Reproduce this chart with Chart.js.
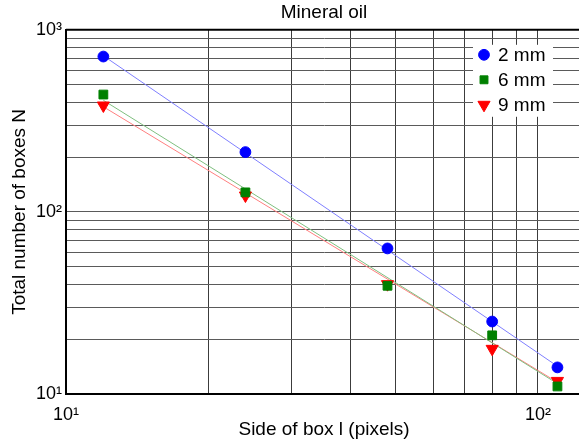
<!DOCTYPE html>
<html><head><meta charset="utf-8">
<script src="https://cdn.jsdelivr.net/npm/chart.js@4/dist/chart.umd.min.js"></script>
<style>
html,body{margin:0;padding:0;overflow:hidden;background:#fff;width:579px;height:444px}
#wrap{position:relative;width:590px;height:444px}
</style></head>
<body><div id="wrap"><canvas id="c"></canvas></div>
<script>
// ---- data ----
const boxSide = [12, 24, 48, 80, 110];
const seriesLabels = ['2 mm', '6 mm', '9 mm'];
const boxes2mm = [713, 213, 63, 25, 14];
const boxes6mm = [441, 128, 39.3, 21, 11];
const boxes9mm = [384, 123, 40.1, 17.7, 11.8];
const fitSide = [12, 110];
const fit2mm = [720, 14.2];
const fit6mm = [410, 11.4];
const fit9mm = [378, 11.6];
const xTickValues = [10, 20, 30, 40, 50, 60, 70, 80, 90, 100];
const yTickValues = [10, 20, 30, 40, 50, 60, 70, 80, 90, 100, 200, 300, 400, 500, 600, 700, 800, 900, 1000];
const tickLabels = {10: '10\u00b9', 100: '10\u00b2', 1000: '10\u00b3'};

const FONT = '"Liberation Sans", Arial, Helvetica, sans-serif';
const toXY = (xs, ys) => xs.map((x, i) => ({x: x, y: ys[i]}));

const markerSets = [
  {label: seriesLabels[0], data: toXY(boxSide, boxes2mm), pointStyle: 'circle', rotation: 0, radius: 5.4, legendRadius: 5.4, color: '#0000ff'},
  {label: seriesLabels[1], data: toXY(boxSide, boxes6mm), pointStyle: 'rect', rotation: 0, radius: 6.2, legendRadius: 5.6, color: '#008000'},
  {label: seriesLabels[2], data: toXY(boxSide, boxes9mm), pointStyle: 'triangle', rotation: 180, radius: 7, legendRadius: 7, color: '#ff0000'}
];
const fitSets = [
  {data: toXY(fitSide, fit2mm), color: '#7f7fff'},
  {data: toXY(fitSide, fit6mm), color: '#7fbf7f'},
  {data: toXY(fitSide, fit9mm), color: '#ff7f7f'}
];

const datasets = [];
markerSets.forEach(m => datasets.push({
  label: m.label, data: m.data, showLine: false, inLegend: true,
  pointStyle: m.pointStyle, rotation: m.rotation, pointRadius: m.radius, legendRadius: m.legendRadius,
  backgroundColor: m.color, borderColor: m.color, borderWidth: 1, pointHoverRadius: m.radius
}));
fitSets.forEach(f => datasets.push({
  label: '', data: f.data, showLine: true, pointRadius: 0, borderColor: f.color,
  backgroundColor: f.color, borderWidth: 1, fill: false
}));

const frameAndLegend = {
  id: 'frameAndLegend',
  afterDraw(chart) {
    const ctx = chart.ctx, a = chart.chartArea;
    ctx.save();
    // top frame line
    ctx.strokeStyle = '#000'; ctx.lineWidth = 2;
    ctx.beginPath(); ctx.moveTo(a.left, a.top); ctx.lineTo(a.right, a.top); ctx.stroke();
    // legend
    const x0 = a.right - 109, y0 = a.top + 15;
    ctx.fillStyle = '#fff';
    ctx.fillRect(x0, y0, 80, 72);
    let row = 0;
    chart.data.datasets.forEach(ds => {
      if (!ds.inLegend) return;
      const y = y0 + 10 + row * 25;
      ctx.fillStyle = ds.backgroundColor; ctx.strokeStyle = ds.borderColor; ctx.lineWidth = 1;
      Chart.helpers.drawPoint(ctx, {pointStyle: ds.pointStyle, rotation: ds.rotation, radius: ds.legendRadius, borderWidth: 1}, x0 + 11, y);
      ctx.fillStyle = '#000';
      ctx.font = '19px ' + FONT;
      ctx.textAlign = 'left'; ctx.textBaseline = 'middle';
      ctx.fillText(ds.label, x0 + 25, y + 1);
      row++;
    });
    ctx.restore();
  }
};

new Chart(document.getElementById('c'), {
  type: 'scatter',
  data: {datasets: datasets},
  plugins: [frameAndLegend],
  options: {
    responsive: true, maintainAspectRatio: false, animation: false,
    layout: {padding: {left: 0, right: 4, top: 0, bottom: 0}},
    plugins: {
      legend: {display: false},
      tooltip: {enabled: false},
      title: {display: true, text: 'Mineral oil', fullSize: false, color: '#000',
        font: {family: FONT, size: 19, weight: 'normal', lineHeight: 1.2}, padding: {top: 1, bottom: 6}}
    },
    scales: {
      x: {
        type: 'logarithmic', min: 10, max: 124, position: 'bottom',
        afterBuildTicks: s => { s.ticks = xTickValues.map(v => ({value: v})); },
        afterFit: s => { s.height = 50; },
        ticks: {autoSkip: false, maxRotation: 0, padding: 10, color: '#000',
          font: {family: FONT, size: 18}, callback: v => tickLabels[v] || ''},
        grid: {color: '#3c3c3c', lineWidth: 1, drawTicks: false},
        border: {color: '#000', width: 2},
        title: {display: true, text: 'Side of box l (pixels)', color: '#000',
          font: {family: FONT, size: 19}, padding: {top: 0, bottom: 3}}
      },
      y: {
        type: 'logarithmic', min: 10, max: 1000, position: 'left',
        afterBuildTicks: s => { s.ticks = yTickValues.map(v => ({value: v})); },
        afterFit: s => { s.width = 66; },
        ticks: {autoSkip: false, padding: 4, color: '#000',
          font: {family: FONT, size: 18}, callback: v => tickLabels[v] || ''},
        grid: {color: '#5a5a5a', lineWidth: 1, drawTicks: false},
        border: {color: '#000', width: 2},
        title: {display: true, text: 'Total number of boxes N', color: '#000',
          font: {family: FONT, size: 19}, padding: {top: 8, bottom: 0}}
      }
    }
  }
});
</script>
</body></html>
